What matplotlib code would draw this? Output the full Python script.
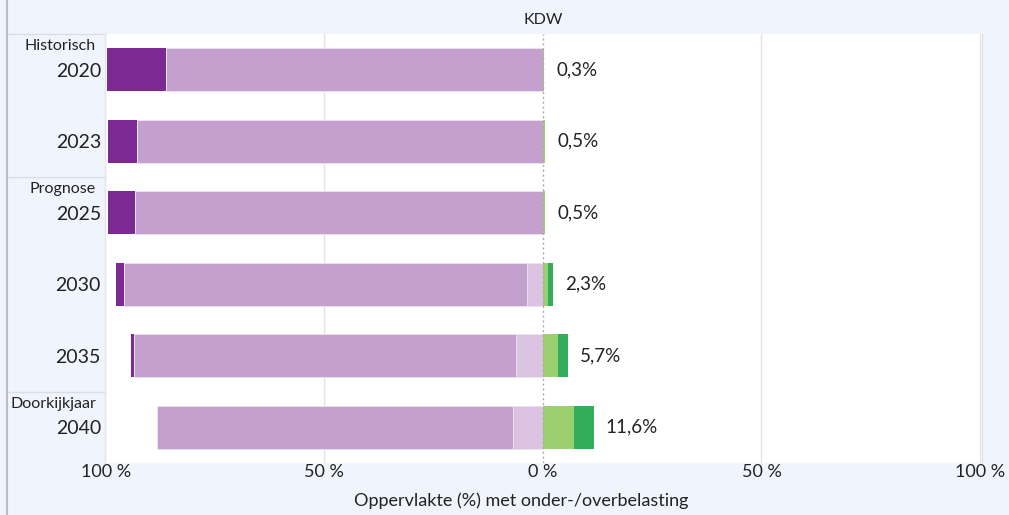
import matplotlib.pyplot as plt
from matplotlib.lines import Line2D
from matplotlib.transforms import blended_transform_factory

plt.rcParams['font.family'] = ['Lato', 'DejaVu Sans']

# ---- data (percentage of area) ----
years = ['2020', '2023', '2025', '2030', '2035', '2040']
groups = {0: 'Historisch', 2: 'Prognose', 5: 'Doorkijkjaar'}
# left side (underloading), from 0 outwards
under_light = [0.0, 0.0, 0.0, 3.7, 6.2, 6.9]
under_mid = [86.2, 92.9, 93.3, 92.2, 87.4, 81.5]
under_dark = [13.5, 6.6, 6.2, 1.8, 0.7, 0.0]
# right side (overloading)
over_light = [0.3, 0.5, 0.5, 1.1, 3.4, 7.0]
over_dark = [0.0, 0.0, 0.0, 1.2, 2.3, 4.6]
totals = ['0,3%', '0,5%', '0,5%', '2,3%', '5,7%', '11,6%']

c_dark = '#7b2a93'
c_mid = '#c4a0ce'
c_light = '#dbc3e2'
c_glight = '#9ccf6f'
c_gdark = '#33ad59'
bg = '#f0f4fc'

W, H = 1009, 515
fig = plt.figure(figsize=(W / 100, H / 100), dpi=100)
fig.patch.set_facecolor(bg)

ax = fig.add_axes([105 / W, (515 - 463) / H, 877 / W, 429 / H])
ax.set_facecolor('white')

y = list(range(len(years)))
h = 0.6
edge = dict(edgecolor='#ece4f0', linewidth=0.6)

neg_light = [-v for v in under_light]
neg_mid = [-(a + b) for a, b in zip(under_light, under_mid)]
ax.barh(y, neg_light, height=h, color=c_light, **edge)
ax.barh(y, [-v for v in under_mid], left=neg_light, height=h, color=c_mid, **edge)
ax.barh(y, [-v for v in under_dark], left=neg_mid, height=h, color=c_dark, linewidth=0)
ax.barh(y, over_light, height=h, color=c_glight, linewidth=0)
ax.barh(y, over_dark, left=over_light, height=h, color=c_gdark, linewidth=0)

for i, lab in enumerate(totals):
    ax.text(over_light[i] + over_dark[i] + 2.8, i, lab, va='center', ha='left',
            fontsize=13.5, color='#222222')

ax.set_xlim(-100.2, 100.45)
ax.set_ylim(5.5, -0.5)

for gx in [-50, 50, 100]:
    ax.axvline(gx, color='#e3e3e8', linewidth=1, zorder=0)
ax.axvline(0, color='#aaaaaa', linewidth=1, linestyle=(0, (1.5, 2)), zorder=3)

ticks = [-100, -50, 0, 50, 100]
ax.set_xticks(ticks)
ax.set_xticklabels([f'{abs(t)} %' for t in ticks], fontsize=13, color='#222222')
ax.tick_params(axis='x', length=0, pad=1)
ax.set_yticks([])
for s in ['top', 'bottom', 'left']:
    ax.spines[s].set_visible(False)
ax.spines['right'].set_color('#dcdce4')

# left category panel
trans = blended_transform_factory(fig.transFigure, ax.transData)
for i, yr in enumerate(years):
    fig.text(101 / W, 0, yr, transform=trans, ha='right', va='center',
             fontsize=14, color='#222222').set_y(i + 0.02)
for i, g in groups.items():
    t = fig.text(96 / W, 0, g, transform=trans, ha='right', va='center',
                 fontsize=11.5, color='#222222')
    t.set_y(i - 0.33)
for b in [-0.5, 1.5, 4.5]:
    fig.add_artist(Line2D([7 / W, 105 / W], [b, b], transform=trans,
                          color='#dcdce4', linewidth=1))
fig.add_artist(Line2D([105 / W, 105 / W], [5.5, -0.5], transform=trans,
                      color='#e4e4ec', linewidth=1))
fig.add_artist(Line2D([7 / W, 7 / W], [0, 1], color='#bdbdc4', linewidth=1.5))

fig.text(543 / W, 1 - 20 / H, 'KDW', ha='center', va='center', fontsize=11.5, color='#222222')
fig.text(521 / W, 1 - 501 / H, 'Oppervlakte (%) met onder-/overbelasting',
         ha='center', va='center', fontsize=13, color='#222222')

fig.savefig('out.png', dpi=100, facecolor=bg)
